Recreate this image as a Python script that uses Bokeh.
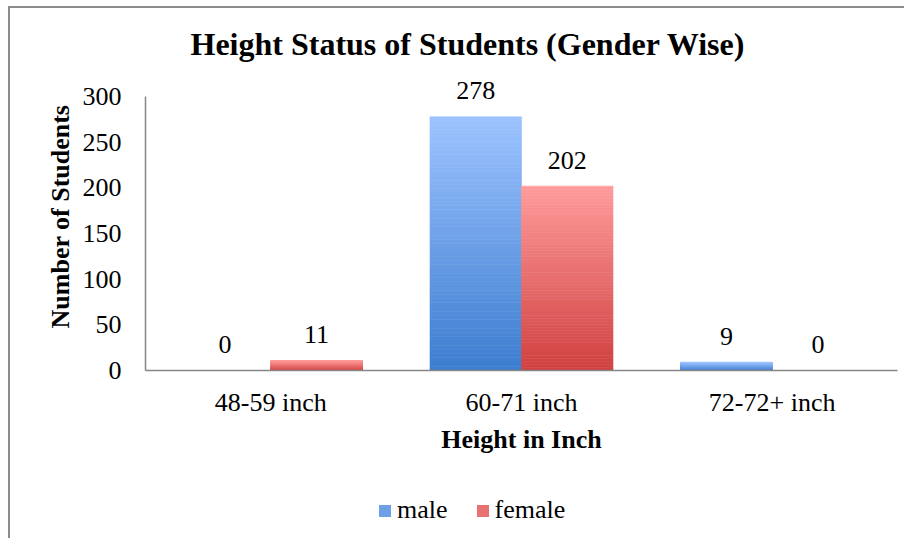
from bokeh.plotting import figure
from bokeh.layouts import column
from bokeh.models import (FactorRange, Range1d, ColumnDataSource, LabelSet, Legend,
                          LegendItem, FixedTicker)
from bokeh.transform import dodge
from bokeh.embed import file_html
from bokeh.resources import INLINE

categories = ["48-59 inch", "60-71 inch", "72-72+ inch"]
male = [0, 278, 9]
female = [11, 202, 0]
series_names = ["male", "female"]
y_ticks = [0, 50, 100, 150, 200, 250, 300]
y_axis_max = 300

FONT = "Liberation Serif"
BAR_W = 0.365
OFFS = {"male": -0.1825, "female": 0.1825}
GRAD = {"male": ((60, 125, 208), (157, 195, 255)),
        "female": ((208, 64, 64), (255, 155, 155))}
MID = {"male": "#6F9FE6", "female": "#E87272"}
N = 60
BORDER = "2px solid #8c8c8c"


def lerp(c0, c1, t):
    return "#%02x%02x%02x" % tuple(int(round(a + (b - a) * t)) for a, b in zip(c0, c1))


p = figure(x_range=FactorRange(*categories, range_padding=0), y_range=Range1d(0, 337.5),
           frame_width=750, frame_height=306,
           min_border_left=135, min_border_right=9, min_border_top=54, min_border_bottom=120,
           output_backend="svg", toolbar_location=None,
           title="Height Status of Students (Gender Wise)")
p.styles = {"border-left": BORDER, "border-top": BORDER,
            "margin-left": "8px", "margin-top": "6px"}
p.outline_line_color = None
p.background_fill_color = "white"
p.border_fill_color = "white"
p.xgrid.visible = False
p.ygrid.visible = False

p.title.text_font = FONT
p.title.text_font_size = "32px"
p.title.text_font_style = "bold"
p.title.text_color = "black"
p.title.align = "left"
p.title.offset = 45
p.title.standoff = 1

values = {"male": male, "female": female}
for name in series_names:
    c0, c1 = GRAD[name]
    xs, bots, tops, cols = [], [], [], []
    for cat, v in zip(categories, values[name]):
        if v <= 0:
            continue
        for i in range(N):
            xs.append(cat)
            bots.append(v * i / N)
            tops.append(v * (i + 1) / N)
            cols.append(lerp(c0, c1, (i + 0.5) / N))
    src = ColumnDataSource(dict(cat=xs, bottom=bots, top=tops, color=cols))
    p.vbar(x=dodge("cat", OFFS[name], range=p.x_range), bottom="bottom", top="top",
           width=BAR_W, source=src, fill_color="color", line_color="color", line_width=0.6)

    lsrc = ColumnDataSource(dict(cat=categories, value=values[name],
                                 label=[str(v) for v in values[name]]))
    labels = LabelSet(x=dodge("cat", OFFS[name], range=p.x_range), y="value", text="label",
                      source=lsrc, y_offset=26, text_align="center", text_baseline="middle",
                      text_font=FONT, text_font_size="26px", text_color="black")
    p.add_layout(labels)

for ax in (p.xaxis[0], p.yaxis[0]):
    ax.axis_line_color = "#868686"
    ax.axis_line_width = 1.5
    ax.major_tick_line_color = None
    ax.minor_tick_line_color = None
    ax.major_label_text_font = FONT
    ax.major_label_text_font_size = "26px"
    ax.major_label_text_color = "black"
    ax.axis_label_text_font = FONT
    ax.axis_label_text_font_size = "26px"
    ax.axis_label_text_font_style = "bold"
    ax.axis_label_text_color = "black"

p.yaxis.ticker = FixedTicker(ticks=y_ticks)
p.yaxis.bounds = (0, y_axis_max)
p.yaxis.major_label_standoff = 18
p.yaxis.axis_label = "Number of Students"
p.yaxis.axis_label_standoff = 5
p.xaxis.axis_label = "Height in Inch"
p.xaxis.major_label_standoff = 11
p.xaxis.axis_label_standoff = 5

# legend strip below the chart (same outer box)
H2 = 50
p2 = figure(width=894, height=H2, x_range=Range1d(0, 894), y_range=Range1d(0, H2),
            min_border_left=0, min_border_right=0, min_border_top=0, min_border_bottom=0,
            x_axis_location=None, y_axis_location=None,
            output_backend="svg", toolbar_location=None)
p2.styles = {"border-left": BORDER, "margin-left": "8px"}
p2.outline_line_color = None
p2.xgrid.visible = False
p2.ygrid.visible = False
p2.background_fill_color = "white"
p2.border_fill_color = "white"

items = []
for name in series_names:
    # zero-height swatch renderer, only used for its legend glyph
    r = p2.vbar(x=[0], bottom=[0], top=[0], width=0, fill_color=MID[name], line_color=None)
    items.append(LegendItem(label=name, renderers=[r]))
legend = Legend(items=items, orientation="horizontal", location=(232, 13),
                glyph_width=15, glyph_height=15, label_standoff=5, spacing=27,
                padding=0, margin=0, label_height=30,
                label_text_font=FONT, label_text_font_size="26px", label_text_color="black",
                border_line_color=None, background_fill_alpha=0)
p2.add_layout(legend)

layout = column(p, p2, spacing=0)
open("out.html", "w").write(file_html(layout, INLINE))
